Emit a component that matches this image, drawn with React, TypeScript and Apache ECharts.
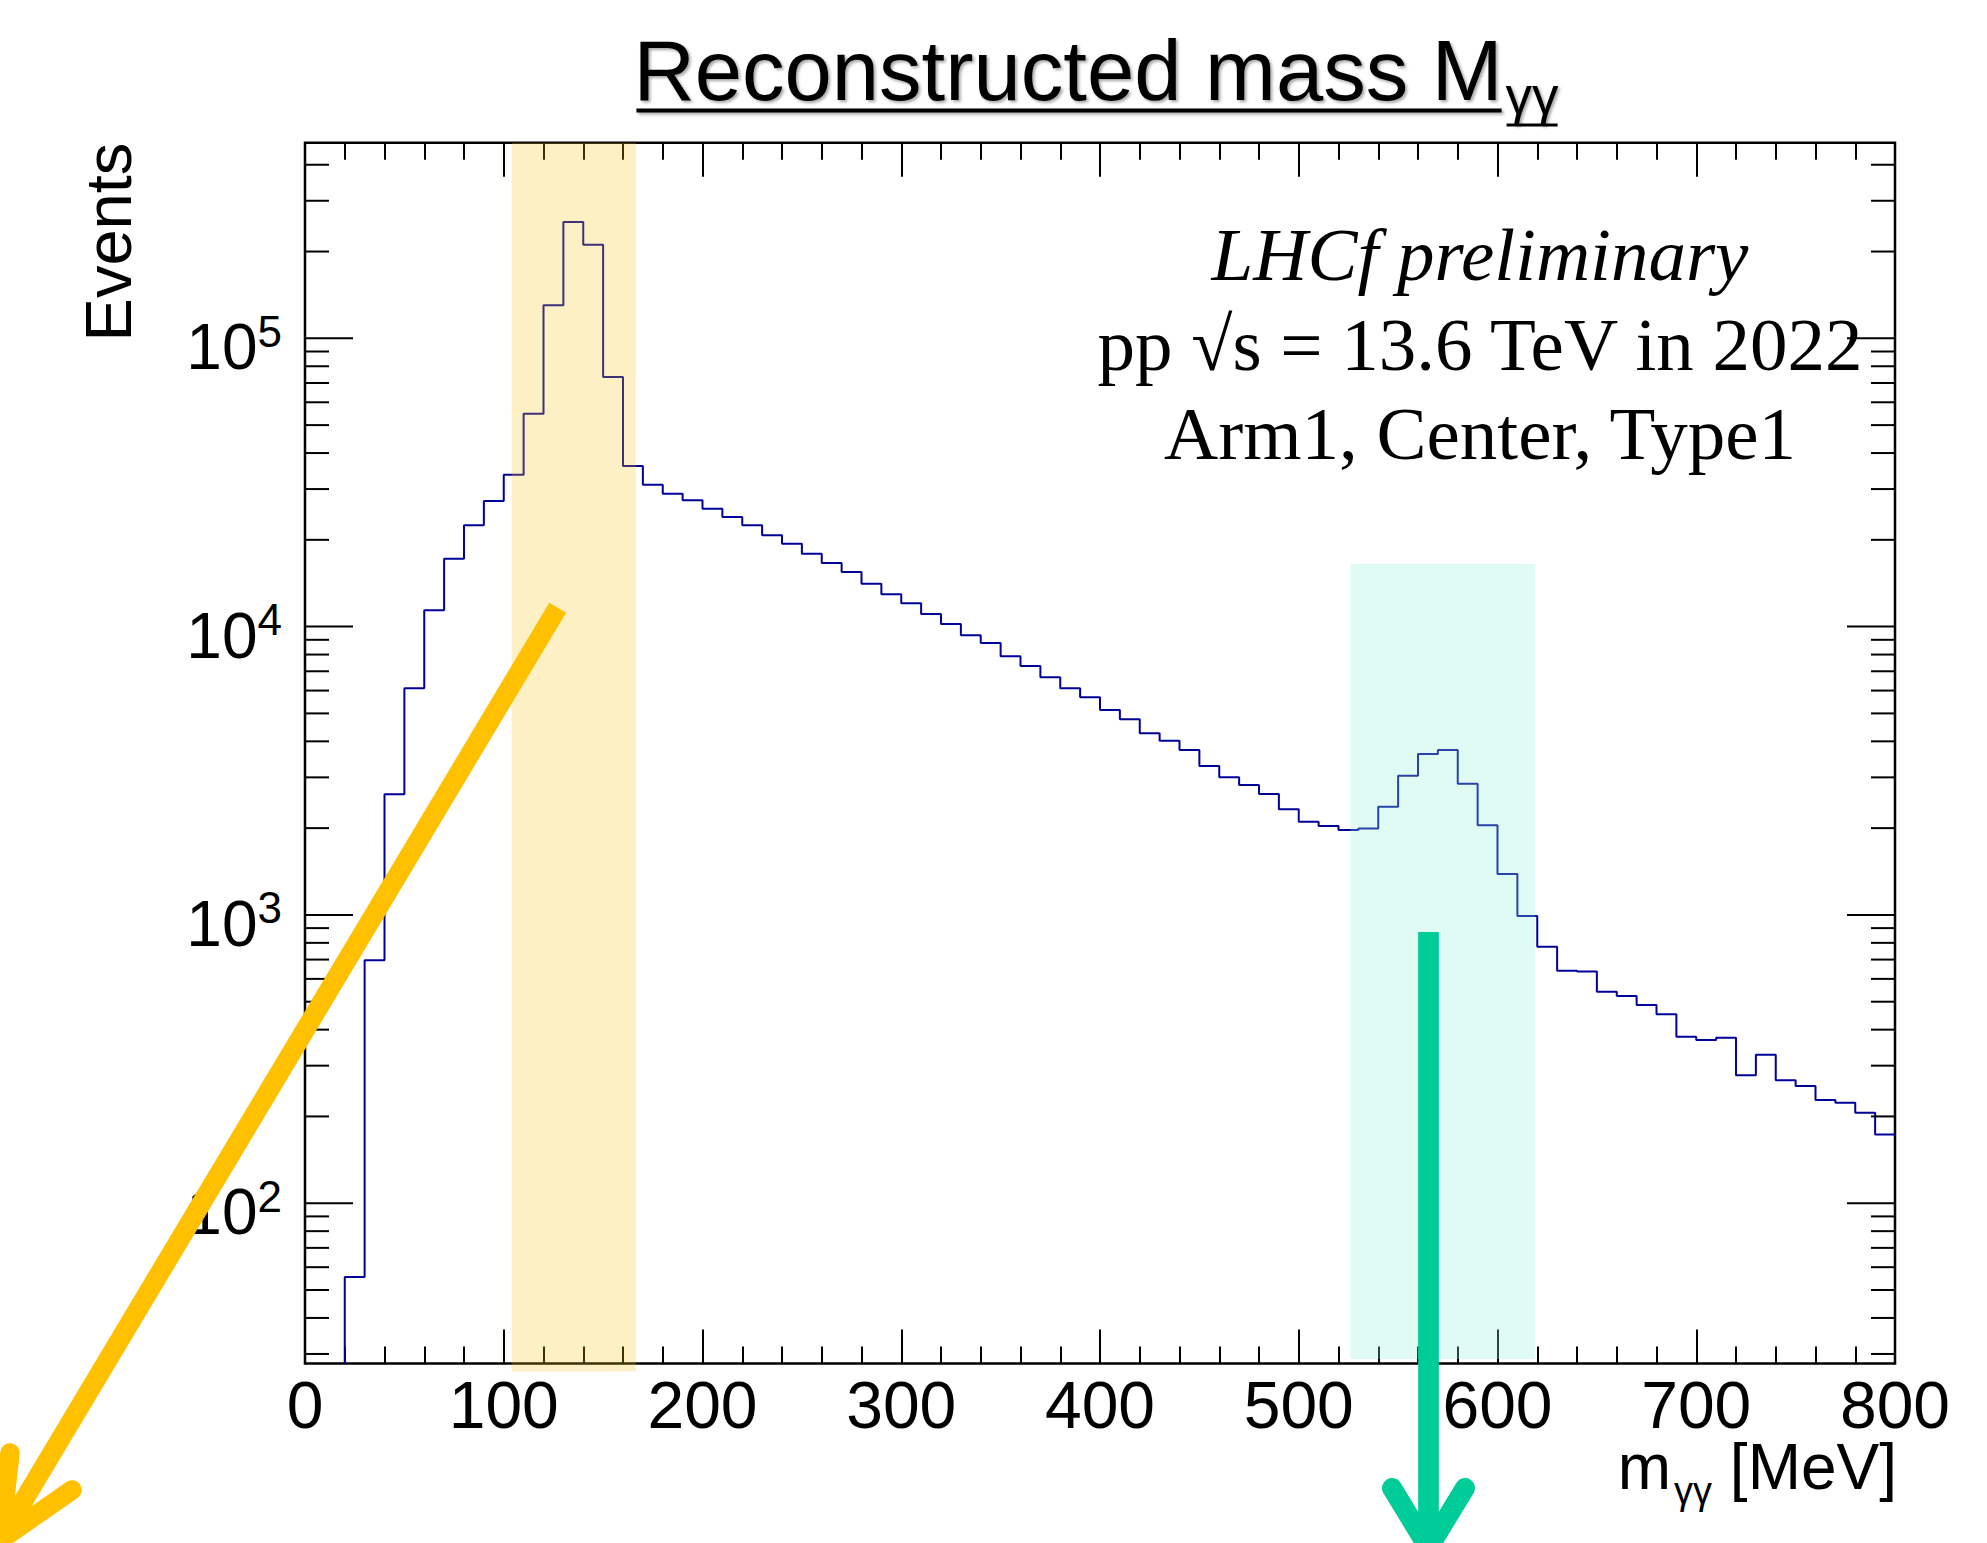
import React, { useEffect, useRef } from "react";
import * as echarts from "echarts";

// ---------- data ----------
const binLowEdges = [
  20, 30, 40, 50, 60, 70, 80, 90, 100, 110,
  120, 130, 140, 150, 160, 170, 180, 190, 200, 210,
  220, 230, 240, 250, 260, 270, 280, 290, 300, 310,
  320, 330, 340, 350, 360, 370, 380, 390, 400, 410,
  420, 430, 440, 450, 460, 470, 480, 490, 500, 510,
  520, 530, 540, 550, 560, 570, 580, 590, 600, 610,
  620, 630, 640, 650, 660, 670, 680, 690, 700, 710,
  720, 730, 740, 750, 760, 770, 780, 790,
];
const binCounts = [
  55.5, 696, 2620, 6110, 11400, 17200, 22450, 27270, 33650, 54770,
  130100, 253200, 211200, 73400, 36060, 31070, 28910, 27430, 25640, 23990,
  22450, 20740, 19390, 17900, 16620, 15470, 14090, 12940, 12060, 11070,
  10220, 9330, 8780, 7900, 7300, 6670, 6110, 5690, 5140, 4770,
  4265, 4020, 3733, 3285, 3000, 2822, 2627, 2324, 2105, 2034,
  1970, 1994, 2373, 3039, 3615, 3733, 2852, 2046, 1387, 991,
  776, 640, 636, 541, 523, 487, 452, 378, 368, 375,
  278, 327, 267, 255, 228, 223, 206, 173,
];
const BIN_WIDTH = 10;

const X_MIN = 0;
const X_MAX = 800;
const X_INTERVAL = 100;
const Y_MIN = 27.8;
const Y_MAX = 4.77e5;

const yDecades = [10, 100, 1000, 10000, 100000];
const yMultipliers = [1, 2, 3, 4, 5, 6, 7, 8, 9];

const orangeBandX = [104, 166.5];
const orangeBandY = [26.1, Y_MAX];
const cyanBandX = [526, 619];
const cyanBandY = [28.8, 16500];

const titleMain = "Reconstructed mass M";
const titleSub = "γγ";
const yTitle = "Events";
const xTitleMain = "m";
const xTitleSub = "γγ";
const xTitleUnit = "[MeV]";
const annotLines = ["LHCf preliminary", "pp √s = 13.6 TeV in 2022", "Arm1, Center, Type1"];

// ---------- styles ----------
const SANS = "'Liberation Sans', Arial, Helvetica, sans-serif";
const SERIF = "'Liberation Serif', 'Times New Roman', serif";
const HIST_COLOR = "#000099";
const ORANGE = "#FFC000";
const GREEN = "#00CC99";

const TITLE_FS = 85;
const TITLE_SUB_FS = 53;
const LABEL_FS = 66;
const YLAB_FS = 64;
const YLAB_SUP_FS = 44;
const XTITLE_FS = 64;
const XTITLE_SUB_FS = 38;
const ANNOT_FS = 75;

function measure(text: string, font: string): number {
  const ctx = document.createElement("canvas").getContext("2d")!;
  ctx.font = font;
  return ctx.measureText(text).width;
}

export default function App() {
  const ref = useRef<HTMLDivElement>(null);

  useEffect(() => {
    const el = ref.current!;
    const chart = echarts.init(el, null, { renderer: "svg", width: 1987, height: 1543 });

    const histPoints: number[][] = [[binLowEdges[0], Y_MIN]];
    binLowEdges.forEach((lo, i) => histPoints.push([lo, binCounts[i]]));
    const last = binLowEdges.length - 1;
    histPoints.push([binLowEdges[last] + BIN_WIDTH, binCounts[last]]);

    const yTickData: number[][] = [];
    yDecades.forEach((d) =>
      yMultipliers.forEach((m) => {
        const v = d * m;
        if (v >= Y_MIN && v <= Y_MAX) yTickData.push([X_MIN, v, m === 1 ? 48 : 24]);
      })
    );

    const bandData = [
      [orangeBandX[0], orangeBandX[1], orangeBandY[0], orangeBandY[1], 0],
      [cyanBandX[0], cyanBandX[1], cyanBandY[0], cyanBandY[1], 1],
    ];
    const bandColors = ["rgba(247,195,24,0.25)", "rgba(143,240,212,0.28)"];

    // title measurements
    const wMain = measure(titleMain, `${TITLE_FS}px ${SANS}`);
    const wSub = measure(titleSub, `${TITLE_SUB_FS}px ${SANS}`);
    const titleX0 = 1096 - (wMain + wSub + 3) / 2;

    const wUnit = measure(xTitleUnit, `${XTITLE_FS}px ${SANS}`);
    const wSpace = measure(" ", `${XTITLE_FS}px ${SANS}`);
    const wXSub = measure(xTitleSub, `${XTITLE_SUB_FS}px ${SANS}`);
    const unitRight = 1897;
    const subRight = unitRight - wUnit - wSpace;
    const mRight = subRight - wXSub - 3;

    const titleShadow = {
      textShadowColor: "rgba(0,0,0,0.35)",
      textShadowBlur: 3,
      textShadowOffsetX: 2,
      textShadowOffsetY: 2,
    };

    const xAxisCommon = {
      type: "value",
      min: X_MIN,
      max: X_MAX,
      interval: X_INTERVAL,
      axisLine: { show: false },
      splitLine: { show: false },
      axisTick: { show: true, inside: true, length: 34, lineStyle: { color: "#000", width: 2 } },
      minorTick: { show: true, splitNumber: 5, length: 17, lineStyle: { color: "#000", width: 2 } },
      minorSplitLine: { show: false },
    };

    const option: any = {
      animation: false,
      backgroundColor: "#ffffff",
      grid: {
        left: 305,
        top: 142.7,
        right: 92,
        bottom: 179.5,
        show: true,
        borderColor: "#000",
        borderWidth: 2.5,
        backgroundColor: "transparent",
      },
      xAxis: [
        {
          ...xAxisCommon,
          position: "bottom",
          axisLabel: { show: true, margin: 8, fontSize: LABEL_FS, color: "#000", fontFamily: SANS },
        },
        {
          ...xAxisCommon,
          position: "top",
          axisLabel: { show: false },
        },
      ],
      yAxis: [
        {
          type: "log",
          logBase: 10,
          min: Y_MIN,
          max: Y_MAX,
          axisLine: { show: false },
          axisTick: { show: false },
          minorTick: { show: false },
          splitLine: { show: false },
          axisLabel: {
            show: true,
            margin: 23,
            formatter: (v: number) => {
              const e = Math.log10(v);
              const r = Math.round(e);
              if (Math.abs(e - r) > 1e-6) return "";
              return "{b|10}{s|" + r + "}";
            },
            rich: {
              b: {
                fontSize: YLAB_FS,
                fontFamily: SANS,
                color: "#000",
                padding: [18, 0, 0, 0],
                verticalAlign: "bottom",
              },
              s: {
                fontSize: YLAB_SUP_FS,
                fontFamily: SANS,
                color: "#000",
                padding: [12, 0, 0, 0],
                verticalAlign: "top",
              },
            },
          },
        },
      ],
      series: [
        {
          type: "line",
          xAxisIndex: 0,
          yAxisIndex: 0,
          step: "end",
          symbol: "none",
          showSymbol: false,
          z: 2,
          lineStyle: { color: HIST_COLOR, width: 2 },
          data: histPoints,
        },
        {
          type: "custom",
          xAxisIndex: 0,
          yAxisIndex: 0,
          z: 3,
          silent: true,
          encode: { x: 0, y: 1 },
          data: yTickData,
          renderItem: (params: any, api: any) => {
            const v = api.value(1);
            const len = api.value(2);
            const pL = api.coord([X_MIN, v]);
            const pR = api.coord([X_MAX, v]);
            return {
              type: "group",
              children: [
                {
                  type: "line",
                  shape: { x1: pL[0], y1: pL[1], x2: pL[0] + len, y2: pL[1] },
                  style: { stroke: "#000", lineWidth: 2 },
                },
                {
                  type: "line",
                  shape: { x1: pR[0] - len, y1: pR[1], x2: pR[0], y2: pR[1] },
                  style: { stroke: "#000", lineWidth: 2 },
                },
              ],
            };
          },
        },
        {
          type: "custom",
          xAxisIndex: 0,
          yAxisIndex: 0,
          z: 6,
          silent: true,
          clip: false,
          encode: { x: [0, 1], y: [2, 3] },
          data: bandData,
          renderItem: (params: any, api: any) => {
            const p0 = api.coord([api.value(0), api.value(3)]);
            const p1 = api.coord([api.value(1), api.value(2)]);
            return {
              type: "rect",
              shape: { x: p0[0], y: p0[1], width: p1[0] - p0[0], height: p1[1] - p0[1] },
              style: { fill: bandColors[api.value(4)] },
            };
          },
        },
      ],
      graphic: [
        // title
        {
          type: "text",
          x: titleX0,
          y: 70,
          style: {
            text: titleMain,
            fontSize: TITLE_FS,
            fontFamily: SANS,
            fill: "#000",
            align: "left",
            verticalAlign: "middle",
            ...titleShadow,
          },
        },
        {
          type: "text",
          x: titleX0 + wMain + 3,
          y: 95,
          style: {
            text: titleSub,
            fontSize: TITLE_SUB_FS,
            fontFamily: SANS,
            fill: "#000",
            align: "left",
            verticalAlign: "middle",
            ...titleShadow,
          },
        },
        {
          type: "rect",
          shape: { x: titleX0 + 3, y: 108.5, width: wMain - 4, height: 4 },
          style: {
            fill: "#000",
            shadowColor: "rgba(0,0,0,0.35)",
            shadowBlur: 3,
            shadowOffsetX: 2,
            shadowOffsetY: 2,
          },
        },
        {
          type: "rect",
          shape: { x: titleX0 + wMain + 4, y: 123.5, width: wSub - 2, height: 3 },
          style: { fill: "#000" },
        },
        // y title
        {
          type: "text",
          x: 108,
          y: 142.7,
          rotation: Math.PI / 2,
          style: {
            text: yTitle,
            fontSize: 65,
            fontFamily: SANS,
            fill: "#000",
            align: "right",
            verticalAlign: "middle",
          },
        },
        // x title
        {
          type: "text",
          x: mRight,
          y: 1467,
          style: {
            text: xTitleMain,
            fontSize: XTITLE_FS,
            fontFamily: SANS,
            fill: "#000",
            align: "right",
            verticalAlign: "middle",
          },
        },
        {
          type: "text",
          x: subRight,
          y: 1491,
          style: {
            text: xTitleSub,
            fontSize: XTITLE_SUB_FS,
            fontFamily: SANS,
            fill: "#000",
            align: "right",
            verticalAlign: "middle",
          },
        },
        {
          type: "text",
          x: unitRight,
          y: 1467,
          style: {
            text: xTitleUnit,
            fontSize: XTITLE_FS,
            fontFamily: SANS,
            fill: "#000",
            align: "right",
            verticalAlign: "middle",
          },
        },
        // annotations
        {
          type: "text",
          x: 1480,
          y: 254,
          style: {
            text: annotLines[0],
            fontSize: ANNOT_FS,
            fontFamily: SERIF,
            fontStyle: "italic",
            fill: "#000",
            align: "center",
            verticalAlign: "middle",
          },
        },
        {
          type: "text",
          x: 1480,
          y: 344,
          style: {
            text: annotLines[1],
            fontSize: ANNOT_FS,
            fontFamily: SERIF,
            fill: "#000",
            align: "center",
            verticalAlign: "middle",
          },
        },
        {
          type: "text",
          x: 1480,
          y: 433.5,
          style: {
            text: annotLines[2],
            fontSize: ANNOT_FS,
            fontFamily: SERIF,
            fill: "#000",
            align: "center",
            verticalAlign: "middle",
          },
        },
        // orange arrow
        {
          type: "line",
          z: 100,
          shape: { x1: 557.7, y1: 607.7, x2: 0, y2: 1540 },
          style: { stroke: ORANGE, lineWidth: 19.6, lineCap: "butt" },
        },
        {
          type: "polyline",
          z: 100,
          shape: { points: [[10, 1453], [0, 1540], [72, 1490]] },
          style: { stroke: ORANGE, lineWidth: 19.6, lineCap: "round", lineJoin: "round", fill: null },
        },
        // green arrow
        {
          type: "line",
          z: 100,
          shape: { x1: 1428.5, y1: 932, x2: 1428.5, y2: 1548 },
          style: { stroke: GREEN, lineWidth: 20.7, lineCap: "butt" },
        },
        {
          type: "polyline",
          z: 100,
          shape: { points: [[1392, 1488], [1428.5, 1548], [1465, 1488]] },
          style: { stroke: GREEN, lineWidth: 20, lineCap: "round", lineJoin: "round", fill: null },
        },
      ],
    };

    chart.setOption(option);
    return () => chart.dispose();
  }, []);

  return (
    <div
      ref={ref}
      style={{ position: "fixed", left: 0, top: 0, width: 1987, height: 1543, background: "#fff" }}
    />
  );
}
